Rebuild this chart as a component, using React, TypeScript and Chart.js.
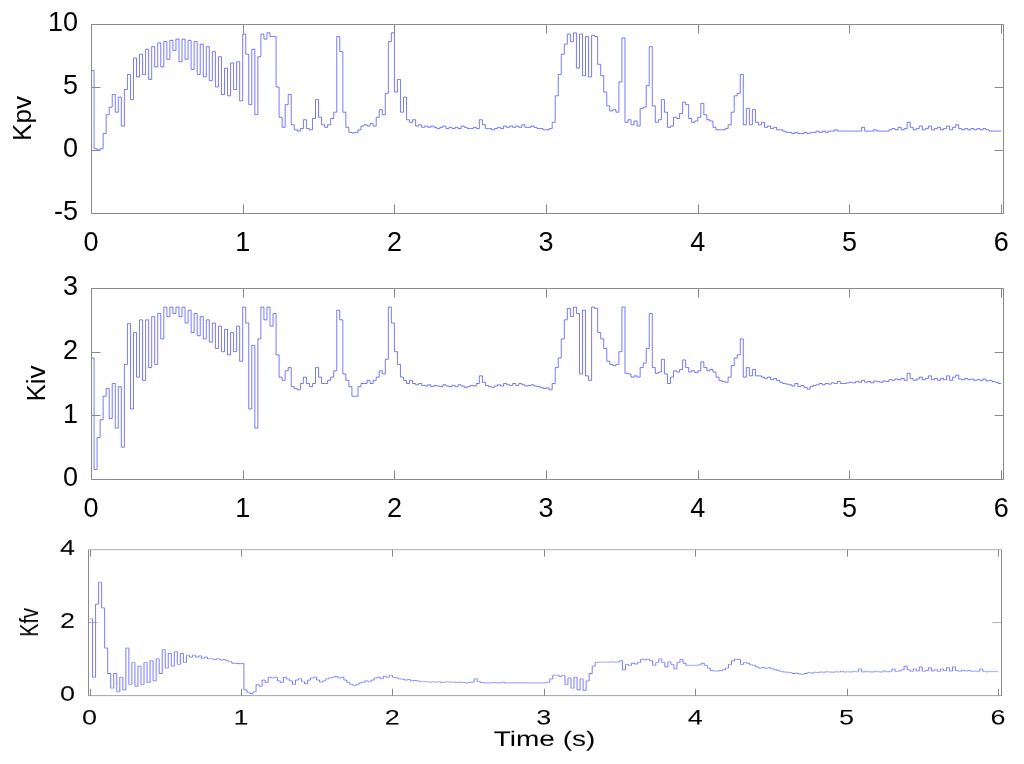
import { useEffect, useRef } from "react";
import { Chart, registerables } from "chart.js";

Chart.register(...registerables);

// sample time step (s) shared by the three gain traces
const timeStep = 0.02;

const kpv = [
  6.3, 0.1, 0.0, 0.1, 1.3, 2.8, 3.4, 4.4, 3.0, 4.2,
  1.9, 4.8, 6.0, 4.0, 7.3, 5.8, 7.6, 6.0, 8.0, 5.6,
  8.2, 6.6, 8.5, 6.6, 8.6, 7.2, 8.7, 7.9, 8.8, 7.0,
  8.8, 7.2, 8.7, 6.4, 8.6, 6.0, 8.4, 5.8, 8.2, 5.5,
  7.8, 5.0, 7.4, 4.4, 6.5, 4.3, 6.9, 4.8, 7.0, 3.9,
  9.2, 7.6, 3.6, 8.0, 2.8, 7.4, 9.2, 8.8, 9.3, 9.0,
  9.0, 5.0, 2.6, 1.8, 3.6, 4.4, 2.0, 1.6, 1.5, 1.7,
  2.4, 1.7, 1.6, 2.5, 4.0, 2.6, 2.0, 1.8, 2.0, 2.5,
  3.0, 9.0, 7.8, 3.0, 1.8, 1.4, 1.35, 1.4, 1.6, 1.9,
  2.0, 1.9, 2.1, 1.9, 2.6, 3.2, 2.8, 4.5, 8.6, 9.3,
  4.6, 5.6, 3.0, 4.2, 2.4, 2.2, 2.4, 1.9, 2.0, 1.8,
  1.9, 1.8, 1.9, 1.8, 1.7, 1.8, 1.9, 1.7, 1.8, 1.7,
  1.8, 1.7, 1.9, 1.8, 1.7, 1.7, 1.8, 1.7, 2.4, 2.0,
  1.7, 1.7, 1.6, 1.7, 1.8, 1.7, 1.9, 1.8, 1.9, 1.8,
  1.9, 1.8, 2.0, 1.8, 1.8, 1.9, 1.8, 1.7, 1.7, 1.6,
  1.6, 1.7, 2.2, 4.3, 6.0, 7.6, 8.4, 9.2, 8.6, 9.3,
  6.5, 9.2, 5.9, 9.0, 5.8, 9.1, 9.0, 6.8, 5.9, 4.6,
  3.5, 3.1, 3.2, 3.0, 5.4, 8.9, 2.2, 2.4, 2.0, 2.3,
  1.9, 3.3, 3.4, 5.1, 8.2, 3.5, 2.2, 2.4, 4.0, 3.0,
  1.8, 1.9, 2.6, 2.5, 2.9, 3.8, 3.6, 2.5, 2.2, 2.3,
  2.6, 3.7, 2.8, 2.4, 2.3, 1.8, 1.6, 1.6, 1.6, 1.7,
  2.0, 3.0, 4.3, 4.5, 6.0, 2.0, 3.3, 2.0, 3.2, 2.2,
  2.0, 2.2, 1.8, 1.9, 1.7, 1.8, 1.6, 1.6, 1.5, 1.4,
  1.4, 1.3, 1.4, 1.3, 1.3, 1.4, 1.3, 1.4, 1.4, 1.5,
  1.4, 1.5, 1.4, 1.5, 1.5, 1.6, 1.5, 1.5, 1.5, 1.5,
  1.5, 1.5, 1.5, 1.5, 1.8, 1.5, 1.5, 1.5, 1.6, 1.5,
  1.5, 1.5, 1.5, 1.6, 1.7, 1.6, 1.8, 1.6, 1.7, 2.2,
  1.8, 1.6, 1.7, 1.9, 1.6, 1.7, 1.9, 1.6, 1.7, 1.8,
  1.6, 1.7, 1.9, 1.6, 1.8, 2.0, 1.7, 1.6, 1.7, 1.6,
  1.7, 1.6, 1.7, 1.6, 1.7, 1.6, 1.5, 1.5, 1.5, 1.5,
  1.5,
];

const kiv = [
  1.9, 0.15, 0.65, 0.93, 1.3, 1.42, 0.95, 1.5, 0.8, 1.45,
  0.5, 1.8, 2.44, 1.1, 2.3, 1.6, 2.5, 1.55, 2.5, 1.75,
  2.55, 1.8, 2.6, 2.2, 2.7, 2.55, 2.7, 2.6, 2.7, 2.55,
  2.7, 2.45, 2.65, 2.3, 2.6, 2.25, 2.55, 2.2, 2.5, 2.15,
  2.45, 2.05, 2.4, 2.0, 2.35, 1.95, 2.3, 2.0, 2.4, 1.85,
  2.7, 2.45, 1.1, 2.1, 0.8, 2.2, 2.7, 2.5, 2.7, 2.4,
  2.6, 1.95, 1.6, 1.55, 1.7, 1.75, 1.45, 1.42, 1.4, 1.5,
  1.6, 1.5, 1.45, 1.5, 1.75, 1.6, 1.5, 1.5, 1.55, 1.6,
  1.7, 2.65, 2.5, 1.65, 1.55, 1.45, 1.3, 1.3, 1.45, 1.5,
  1.5, 1.55, 1.5, 1.55, 1.6, 1.7, 1.65, 1.88, 2.7, 2.45,
  2.0, 1.8, 1.6, 1.55, 1.5, 1.55, 1.5, 1.48, 1.5, 1.47,
  1.46, 1.48, 1.45, 1.47, 1.46, 1.45, 1.48, 1.46, 1.45, 1.47,
  1.45, 1.48, 1.46, 1.44, 1.45, 1.47, 1.46, 1.5, 1.62, 1.52,
  1.47, 1.45, 1.44, 1.46, 1.48, 1.46, 1.5, 1.48, 1.47, 1.5,
  1.47, 1.5, 1.48, 1.46, 1.47, 1.48, 1.46, 1.45, 1.44, 1.42,
  1.43, 1.4, 1.5, 1.75, 1.9, 2.2, 2.5, 2.68, 2.55, 2.7,
  2.6, 1.65, 2.65, 1.62, 1.55, 2.7, 2.68, 2.3, 2.2, 2.05,
  1.85, 1.8, 1.78, 1.8, 2.0, 2.7, 1.66, 1.65, 1.6, 1.62,
  1.6, 1.75, 1.82, 2.05, 2.6, 1.75, 1.66, 1.68, 1.88, 1.65,
  1.5, 1.6, 1.7, 1.68, 1.72, 1.87, 1.75, 1.68, 1.7, 1.67,
  1.7, 1.84, 1.75, 1.7, 1.72, 1.68, 1.6, 1.55, 1.53, 1.52,
  1.6, 1.78, 1.9, 1.95, 2.2, 1.6, 1.75, 1.62, 1.72, 1.62,
  1.62, 1.6, 1.58, 1.6, 1.56, 1.58, 1.55, 1.52, 1.5, 1.49,
  1.48, 1.46, 1.5, 1.45, 1.47, 1.44, 1.41, 1.45, 1.47, 1.48,
  1.5, 1.48, 1.5, 1.49, 1.51, 1.5, 1.53, 1.5, 1.5, 1.51,
  1.52, 1.51, 1.53, 1.52, 1.55, 1.52, 1.53, 1.51, 1.54, 1.53,
  1.52, 1.54, 1.53, 1.56, 1.55, 1.57, 1.56, 1.58, 1.55, 1.66,
  1.58, 1.55, 1.57, 1.6, 1.56, 1.58, 1.62, 1.56, 1.58, 1.55,
  1.58, 1.56, 1.62, 1.55, 1.6, 1.63, 1.57, 1.56, 1.58, 1.56,
  1.57, 1.55, 1.56, 1.55, 1.57, 1.54, 1.55, 1.53, 1.52, 1.5,
  1.5,
];

const kfv = [
  2.1, 0.5, 2.5, 3.1, 2.4, 1.3, 0.6, 0.2, 0.6, 0.1,
  0.5, 0.15, 1.3, 0.3, 0.9, 0.25, 0.8, 0.3, 0.9, 0.35,
  0.95, 0.4, 1.0, 0.6, 1.25, 0.75, 1.15, 0.8, 1.2, 0.85,
  1.15, 0.9, 1.1, 1.05, 1.1, 1.05, 1.08, 1.02, 1.05, 1.0,
  1.0, 0.98, 1.0, 0.97, 0.98, 0.95, 0.93, 0.88, 0.88, 0.87,
  0.87, 0.15, 0.08, 0.05, 0.1, 0.3, 0.25, 0.42, 0.35, 0.5,
  0.48, 0.5, 0.4, 0.35, 0.5, 0.45, 0.4, 0.3, 0.42, 0.46,
  0.38, 0.32, 0.42, 0.48, 0.5, 0.42, 0.36, 0.4, 0.45, 0.48,
  0.5, 0.52, 0.48, 0.5, 0.42, 0.35, 0.3, 0.27, 0.3, 0.34,
  0.36, 0.4, 0.38, 0.42, 0.48, 0.5, 0.46, 0.52, 0.5, 0.55,
  0.5, 0.48, 0.45, 0.44, 0.42, 0.43, 0.4, 0.41, 0.4, 0.38,
  0.38, 0.37, 0.36, 0.37, 0.36, 0.37, 0.35, 0.36, 0.37, 0.36,
  0.36, 0.35, 0.36, 0.35, 0.34, 0.35, 0.36, 0.45, 0.38, 0.35,
  0.34, 0.34, 0.34, 0.35, 0.34, 0.34, 0.36, 0.34, 0.34, 0.34,
  0.34, 0.34, 0.34, 0.34, 0.34, 0.34, 0.34, 0.34, 0.34, 0.34,
  0.34, 0.36, 0.45, 0.55, 0.55, 0.52, 0.55, 0.3, 0.48, 0.2,
  0.5, 0.15, 0.45, 0.14, 0.4, 0.6, 0.8, 0.9, 0.91, 0.91,
  0.91, 0.91, 0.92, 0.91, 0.92, 0.95, 0.7, 0.85, 0.82, 0.88,
  0.86, 0.9, 0.99, 0.97, 0.99, 0.95, 0.82, 0.9, 1.0, 0.9,
  0.78, 0.92, 0.85, 0.72, 0.9, 0.98, 0.88, 0.82, 0.82, 0.82,
  0.82, 0.84, 0.88, 0.82, 0.75, 0.68, 0.67, 0.67, 0.68, 0.7,
  0.75, 0.85, 0.95, 0.99, 0.98, 0.85, 0.9, 0.88, 0.84, 0.82,
  0.78, 0.75, 0.77, 0.74, 0.76, 0.73, 0.7, 0.68, 0.66, 0.64,
  0.63, 0.62, 0.6, 0.61, 0.59, 0.58, 0.6, 0.62, 0.61, 0.63,
  0.62, 0.64, 0.63, 0.65, 0.64, 0.63, 0.65, 0.64, 0.66, 0.64,
  0.65, 0.64, 0.66, 0.65, 0.72, 0.64, 0.66, 0.65, 0.64, 0.66,
  0.65, 0.64, 0.67, 0.65, 0.66, 0.72, 0.66, 0.67, 0.7, 0.8,
  0.7, 0.66, 0.72, 0.67, 0.78, 0.66, 0.68, 0.76, 0.67, 0.7,
  0.66, 0.72, 0.68, 0.76, 0.67, 0.78, 0.68, 0.66, 0.69, 0.67,
  0.68, 0.66, 0.67, 0.66, 0.72, 0.66, 0.65, 0.66, 0.66, 0.66,
  0.66,
];

const timeTicks = [0, 1, 2, 3, 4, 5, 6];
const kpvTicks = [-5, 0, 5, 10];
const kivTicks = [0, 1, 2, 3];
const kfvTicks = [0, 2, 4];

const FONT = "'Liberation Sans', Arial, Helvetica, sans-serif";
const TICK_LEN = 9;

// MATLAB-like box with inward ticks on all four sides, plus axis titles
const framePlugin = {
  id: "frame",
  afterDraw(chart: any, _args: any, opts: any) {
    const { ctx, chartArea: a } = chart;
    const xs = chart.scales.x;
    const ys = chart.scales.y;
    const l = Math.round(a.left) + 0.5;
    const r = Math.round(a.right) + 0.5;
    const t = Math.round(a.top) + 0.5;
    const b = Math.round(a.bottom) + 0.5;
    ctx.save();
    ctx.strokeStyle = "#8a8a8a";
    ctx.lineWidth = 1;
    ctx.beginPath();
    ctx.rect(l, t, r - l, b - t);
    for (const tk of xs.ticks) {
      const px = Math.round(xs.getPixelForValue(tk.value)) + 0.5;
      ctx.moveTo(px, b);
      ctx.lineTo(px, b - TICK_LEN);
      ctx.moveTo(px, t);
      ctx.lineTo(px, t + TICK_LEN);
    }
    for (const tk of ys.ticks) {
      const py = Math.round(ys.getPixelForValue(tk.value)) + 0.5;
      ctx.moveTo(l, py);
      ctx.lineTo(l + TICK_LEN, py);
      ctx.moveTo(r, py);
      ctx.lineTo(r - TICK_LEN, py);
    }
    ctx.stroke();

    ctx.fillStyle = "#000";
    ctx.font = `26px ${FONT}`;
    ctx.textAlign = "center";
    ctx.textBaseline = "alphabetic";
    ctx.save();
    ctx.translate(opts.labelX, (a.top + a.bottom) / 2);
    ctx.rotate(-Math.PI / 2);
    ctx.fillText(opts.label, 0, 0);
    ctx.restore();
    if (opts.xTitle) {
      ctx.font = `28px ${FONT}`;
      ctx.fillText(opts.xTitle, (a.left + a.right) / 2, opts.xTitleY);
    }
    ctx.restore();
  },
};

type PanelProps = {
  top: number;
  height: number;
  squash?: number;
  values: number[];
  yMin: number;
  yMax: number;
  yTicks: number[];
  xMin: number;
  xMax: number;
  axisWidth: number;
  rightPad: number;
  topPad: number;
  xAxisHeight: number;
  label: string;
  labelX: number;
  xTitle?: string;
  xTitleY?: number;
};

function Panel(p: PanelProps) {
  const canvasRef = useRef<HTMLCanvasElement>(null);

  useEffect(() => {
    if (!canvasRef.current) return;
    const ctx = canvasRef.current.getContext("2d");
    if (!ctx) return;
    const points = p.values.map((v, i) => ({ x: i * timeStep, y: v }));
    const chart = new Chart(ctx, {
      type: "line",
      data: {
        datasets: [
          {
            data: points,
            borderColor: "rgba(50,50,255,0.65)",
            borderWidth: 1,
            pointRadius: 0,
            stepped: true,
            fill: false,
          },
        ],
      },
      options: {
        responsive: false,
        animation: false,
        events: [],
        layout: { padding: { left: 0, right: p.rightPad, top: p.topPad, bottom: 0 } },
        plugins: {
          legend: { display: false },
          tooltip: { enabled: false },
          frame: { label: p.label, labelX: p.labelX, xTitle: p.xTitle, xTitleY: p.xTitleY },
        } as any,
        scales: {
          x: {
            type: "linear",
            min: p.xMin,
            max: p.xMax,
            grid: { display: false },
            border: { display: false },
            ticks: { color: "#000", font: { family: FONT, size: 27 }, padding: 6, maxRotation: 0 },
            afterBuildTicks: (s: any) => {
              s.ticks = timeTicks.map((v) => ({ value: v }));
            },
            afterFit: (s: any) => {
              s.height = p.xAxisHeight;
            },
          },
          y: {
            type: "linear",
            min: p.yMin,
            max: p.yMax,
            grid: { display: false },
            border: { display: false },
            ticks: { color: "#000", font: { family: FONT, size: 27 }, padding: 5 },
            afterBuildTicks: (s: any) => {
              s.ticks = p.yTicks.map((v) => ({ value: v }));
            },
            afterFit: (s: any) => {
              s.width = p.axisWidth;
            },
          },
        },
      },
      plugins: [framePlugin],
    });
    return () => chart.destroy();
  }, [p]);

  const s = p.squash ?? 1;
  return (
    <div
      style={{
        position: "absolute",
        left: 0,
        top: p.top,
        width: 1024,
        height: p.height,
        transform: s !== 1 ? `scaleY(${s})` : undefined,
        transformOrigin: "top left",
      }}
    >
      <canvas ref={canvasRef} width={1024} height={p.height} />
    </div>
  );
}

const topPanel: PanelProps = {
  top: 0,
  height: 260,
  values: kpv,
  yMin: -5,
  yMax: 10,
  yTicks: kpvTicks,
  xMin: 0,
  xMax: 6.012,
  axisWidth: 91,
  rightPad: 21,
  topPad: 24,
  xAxisHeight: 47,
  label: "Kpv",
  labelX: 31,
};

const midPanel: PanelProps = {
  top: 264,
  height: 260,
  values: kiv,
  yMin: 0,
  yMax: 3,
  yTicks: kivTicks,
  xMin: 0,
  xMax: 6.012,
  axisWidth: 91,
  rightPad: 21,
  topPad: 24,
  xAxisHeight: 45,
  label: "Kiv",
  labelX: 45,
};

const bottomPanel: PanelProps = {
  top: 531,
  height: 300,
  squash: 0.768,
  values: kfv,
  yMin: 0,
  yMax: 4,
  yTicks: kfvTicks,
  xMin: -0.01,
  xMax: 6.02,
  axisWidth: 88,
  rightPad: 23,
  topPad: 24,
  xAxisHeight: 86,
  label: "Kfv",
  labelX: 37.5,
  xTitle: "Time (s)",
  xTitleY: 280,
};

export default function App() {
  return (
    <div
      style={{
        position: "fixed",
        left: 0,
        top: 0,
        width: 1024,
        height: 764,
        background: "#fff",
        overflow: "hidden",
      }}
    >
      <Panel {...topPanel} />
      <Panel {...midPanel} />
      <Panel {...bottomPanel} />
    </div>
  );
}
